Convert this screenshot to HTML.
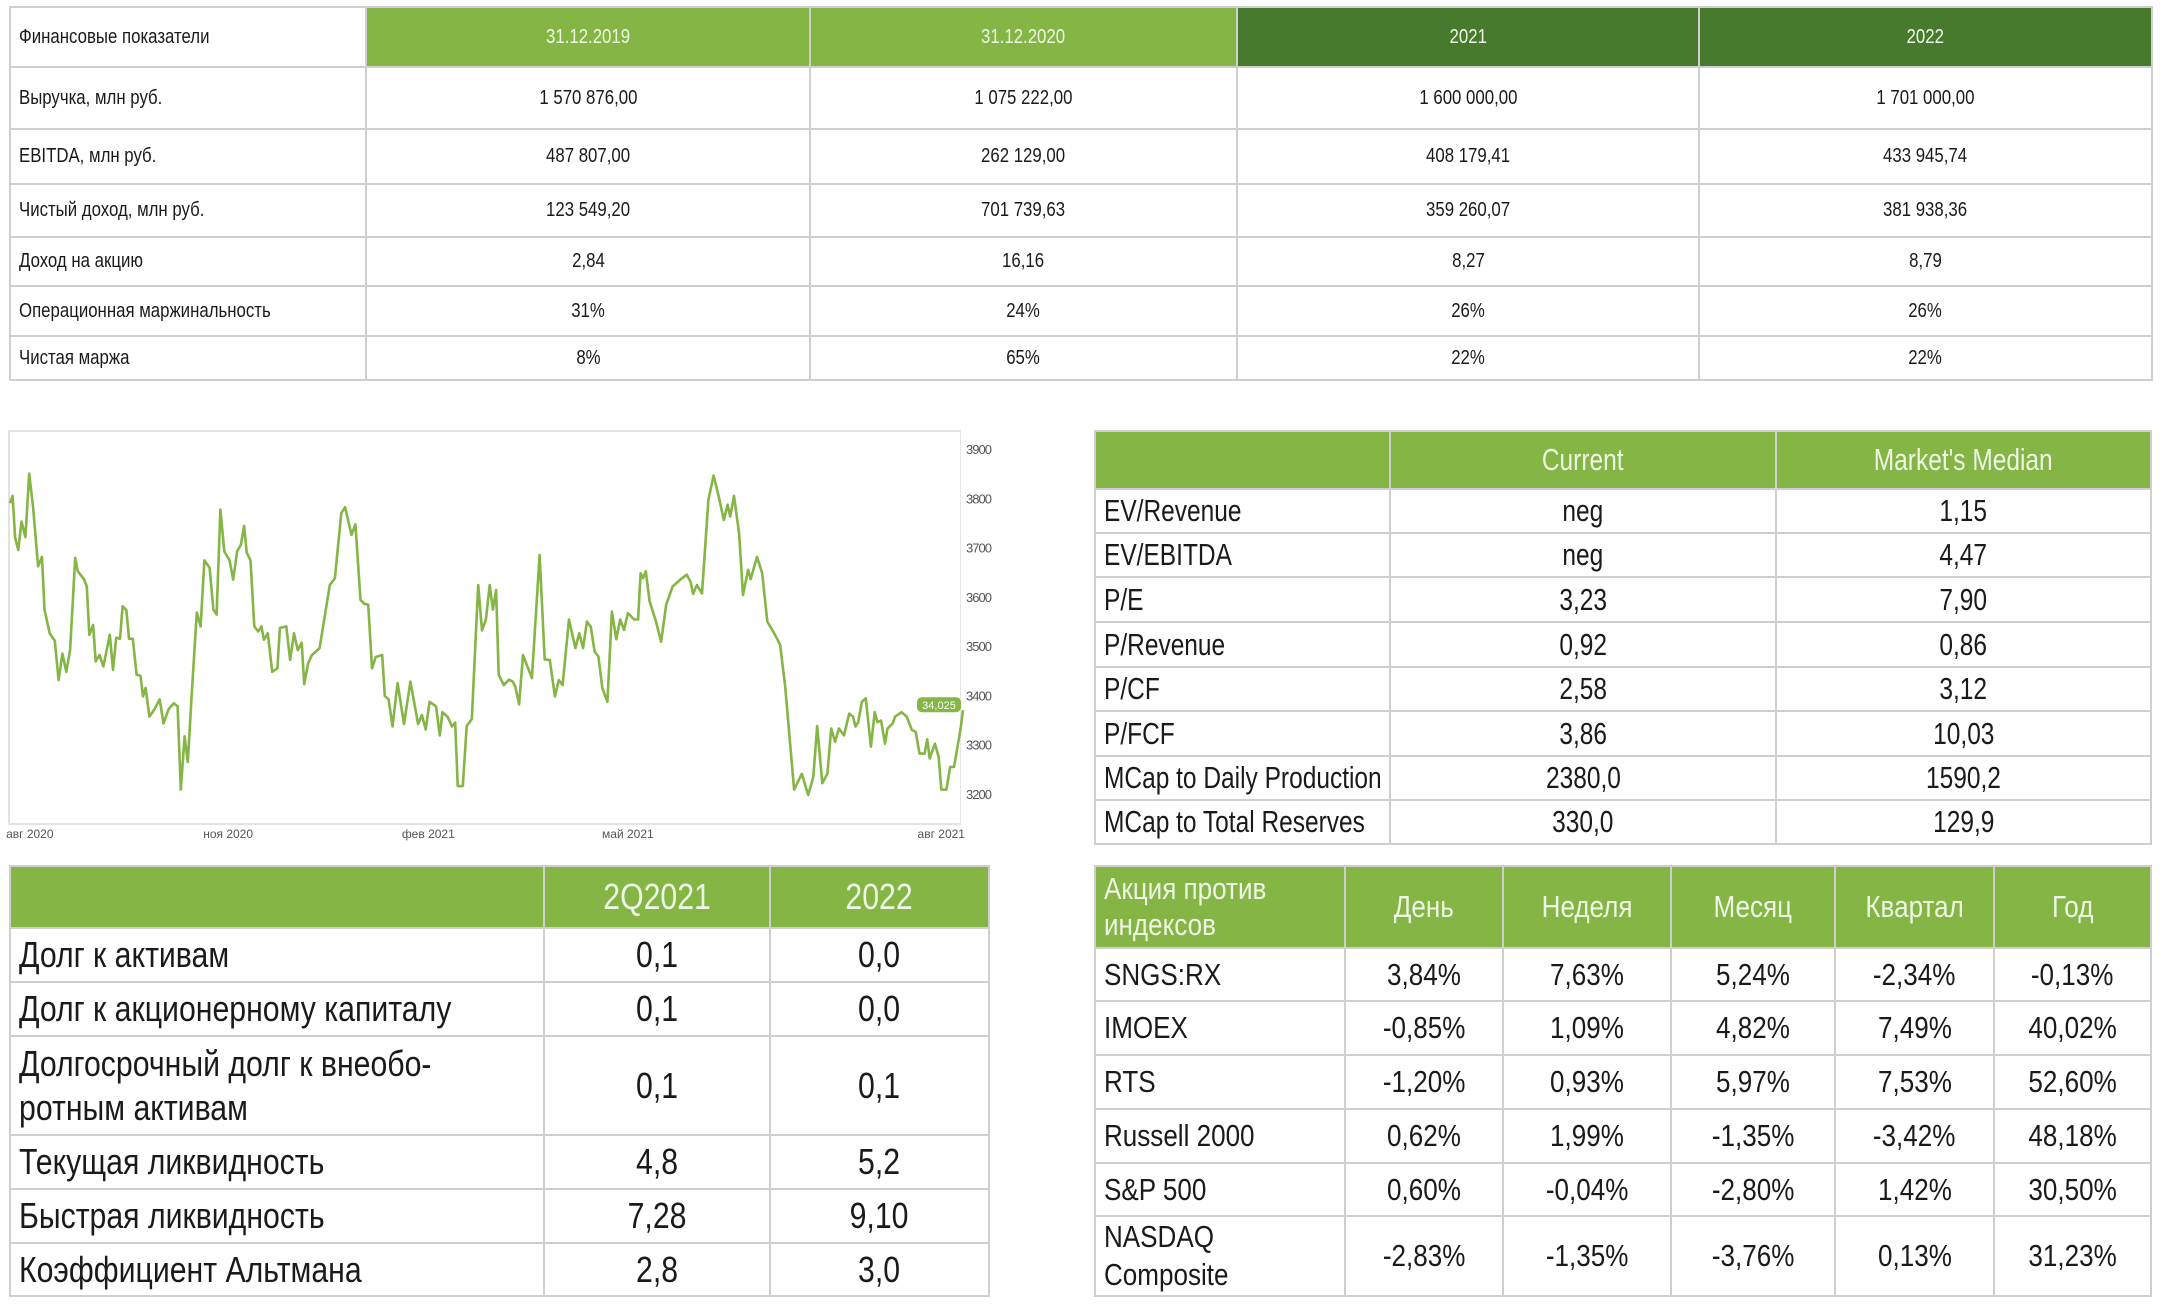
<!DOCTYPE html>
<html><head><meta charset="utf-8">
<style>
body{margin:0;width:2161px;height:1305px;background:#fff;position:relative;overflow:hidden;font-family:"Liberation Sans Narrow","Liberation Sans","DejaVu Sans Condensed",sans-serif;color:#1a1a1a}
table{position:absolute;border-collapse:collapse;table-layout:fixed}
td{border:2px solid #cfcfcf;padding:0 0 0 8px;white-space:nowrap;overflow:hidden}
td.c{text-align:center;padding:0}
td span{display:inline-block;transform:scaleX(.84);transform-origin:left center}
td.c span{transform-origin:center center}
#t2 td span{transform:scaleX(.79)}
.hl{background:#84b545;color:#eef6e4}
.hd{background:#477a2d;color:#eef6e4}
#t1 td{font-size:20px}
#t2 td{font-size:31px}
#t3 td{font-size:31px}
#t4 td{font-size:36px}
</style></head><body>

<table id="t1" style="left:9px;top:6px;width:2142px">
<colgroup><col style="width:356px"><col style="width:444px"><col style="width:427px"><col style="width:462px"><col style="width:453px"></colgroup>
<tr style="height:60px"><td><span>Финансовые показатели</span></td><td class="c hl"><span>31.12.2019</span></td><td class="c hl"><span>31.12.2020</span></td><td class="c hd"><span>2021</span></td><td class="c hd"><span>2022</span></td></tr>
<tr style="height:62px"><td><span>Выручка, млн руб.</span></td><td class="c"><span>1 570 876,00</span></td><td class="c"><span>1 075 222,00</span></td><td class="c"><span>1 600 000,00</span></td><td class="c"><span>1 701 000,00</span></td></tr>
<tr style="height:55px"><td><span>EBITDA, млн руб.</span></td><td class="c"><span>487 807,00</span></td><td class="c"><span>262 129,00</span></td><td class="c"><span>408 179,41</span></td><td class="c"><span>433 945,74</span></td></tr>
<tr style="height:53px"><td><span>Чистый доход, млн руб.</span></td><td class="c"><span>123 549,20</span></td><td class="c"><span>701 739,63</span></td><td class="c"><span>359 260,07</span></td><td class="c"><span>381 938,36</span></td></tr>
<tr style="height:49px"><td><span>Доход на акцию</span></td><td class="c"><span>2,84</span></td><td class="c"><span>16,16</span></td><td class="c"><span>8,27</span></td><td class="c"><span>8,79</span></td></tr>
<tr style="height:50px"><td><span>Операционная маржинальность</span></td><td class="c"><span>31%</span></td><td class="c"><span>24%</span></td><td class="c"><span>26%</span></td><td class="c"><span>26%</span></td></tr>
<tr style="height:44px"><td><span>Чистая маржа</span></td><td class="c"><span>8%</span></td><td class="c"><span>65%</span></td><td class="c"><span>22%</span></td><td class="c"><span>22%</span></td></tr>
</table>

<div style="position:absolute;left:8px;top:430px;width:950px;height:391px;border:2px solid #e2e2e2;border-right:1px solid #e6e6e6"></div>
<svg id="chart" width="2161" height="1305" style="position:absolute;left:0;top:0" xmlns="http://www.w3.org/2000/svg"></svg>

<table id="t2" style="left:1094px;top:430px;width:1056px">
<colgroup><col style="width:295px"><col style="width:386px"><col style="width:375px"></colgroup>
<tr style="height:58px"><td class="hl"></td><td class="c hl"><span>Current</span></td><td class="c hl"><span>Market's Median</span></td></tr>
<tr style="height:44px"><td><span>EV/Revenue</span></td><td class="c"><span>neg</span></td><td class="c"><span>1,15</span></td></tr>
<tr style="height:44px"><td><span>EV/EBITDA</span></td><td class="c"><span>neg</span></td><td class="c"><span>4,47</span></td></tr>
<tr style="height:45px"><td><span>P/E</span></td><td class="c"><span>3,23</span></td><td class="c"><span>7,90</span></td></tr>
<tr style="height:45px"><td><span>P/Revenue</span></td><td class="c"><span>0,92</span></td><td class="c"><span>0,86</span></td></tr>
<tr style="height:44px"><td><span>P/CF</span></td><td class="c"><span>2,58</span></td><td class="c"><span>3,12</span></td></tr>
<tr style="height:45px"><td><span>P/FCF</span></td><td class="c"><span>3,86</span></td><td class="c"><span>10,03</span></td></tr>
<tr style="height:44px"><td><span>MCap to Daily Production</span></td><td class="c"><span>2380,0</span></td><td class="c"><span>1590,2</span></td></tr>
<tr style="height:44px"><td><span>MCap to Total Reserves</span></td><td class="c"><span>330,0</span></td><td class="c"><span>129,9</span></td></tr>
</table>

<table id="t3" style="left:1094px;top:865px;width:1056px">
<colgroup><col style="width:250px"><col style="width:158px"><col style="width:168px"><col style="width:164px"><col style="width:159px"><col style="width:157px"></colgroup>
<tr style="height:82px"><td class="hl" style="line-height:36px"><span>Акция против<br>индексов</span></td><td class="c hl"><span>День</span></td><td class="c hl"><span>Неделя</span></td><td class="c hl"><span>Месяц</span></td><td class="c hl"><span>Квартал</span></td><td class="c hl"><span>Год</span></td></tr>
<tr style="height:53px"><td><span>SNGS:RX</span></td><td class="c"><span>3,84%</span></td><td class="c"><span>7,63%</span></td><td class="c"><span>5,24%</span></td><td class="c"><span>-2,34%</span></td><td class="c"><span>-0,13%</span></td></tr>
<tr style="height:54px"><td><span>IMOEX</span></td><td class="c"><span>-0,85%</span></td><td class="c"><span>1,09%</span></td><td class="c"><span>4,82%</span></td><td class="c"><span>7,49%</span></td><td class="c"><span>40,02%</span></td></tr>
<tr style="height:54px"><td><span>RTS</span></td><td class="c"><span>-1,20%</span></td><td class="c"><span>0,93%</span></td><td class="c"><span>5,97%</span></td><td class="c"><span>7,53%</span></td><td class="c"><span>52,60%</span></td></tr>
<tr style="height:54px"><td><span>Russell 2000</span></td><td class="c"><span>0,62%</span></td><td class="c"><span>1,99%</span></td><td class="c"><span>-1,35%</span></td><td class="c"><span>-3,42%</span></td><td class="c"><span>48,18%</span></td></tr>
<tr style="height:53px"><td><span>S&amp;P 500</span></td><td class="c"><span>0,60%</span></td><td class="c"><span>-0,04%</span></td><td class="c"><span>-2,80%</span></td><td class="c"><span>1,42%</span></td><td class="c"><span>30,50%</span></td></tr>
<tr style="height:80px"><td style="line-height:38px"><span>NASDAQ<br>Composite</span></td><td class="c"><span>-2,83%</span></td><td class="c"><span>-1,35%</span></td><td class="c"><span>-3,76%</span></td><td class="c"><span>0,13%</span></td><td class="c"><span>31,23%</span></td></tr>
</table>

<table id="t4" style="left:9px;top:865px;width:979px">
<colgroup><col style="width:534px"><col style="width:226px"><col style="width:219px"></colgroup>
<tr style="height:62px"><td class="hl"></td><td class="c hl"><span>2Q2021</span></td><td class="c hl"><span>2022</span></td></tr>
<tr style="height:54px"><td><span>Долг к активам</span></td><td class="c"><span>0,1</span></td><td class="c"><span>0,0</span></td></tr>
<tr style="height:54px"><td><span>Долг к акционерному капиталу</span></td><td class="c"><span>0,1</span></td><td class="c"><span>0,0</span></td></tr>
<tr style="height:99px"><td style="line-height:44px"><span>Долгосрочный долг к внеобо-<br>ротным активам</span></td><td class="c"><span>0,1</span></td><td class="c"><span>0,1</span></td></tr>
<tr style="height:54px"><td><span>Текущая ликвидность</span></td><td class="c"><span>4,8</span></td><td class="c"><span>5,2</span></td></tr>
<tr style="height:54px"><td><span>Быстрая ликвидность</span></td><td class="c"><span>7,28</span></td><td class="c"><span>9,10</span></td></tr>
<tr style="height:53px"><td><span>Коэффициент Альтмана</span></td><td class="c"><span>2,8</span></td><td class="c"><span>3,0</span></td></tr>
</table>

<script>
const t=[14,18,22,27,32,38,44,50,58,64,68,76,84,90,96,102,108,116,120,130,134,138,144,148,154,160,170,175,180,186,190,196,200,206,212,218,222,226,232,240,248,254,262,270,276,281,287,292,298,306,312,318,326,332,337,343,349,357,363,369,375,380,384,390,396,402,407,411,417,424,432,436,446,452,458,464,470,474,480,486,498,506,514,522,532,538,548,554,562,568,574,580,586,596,600,606,612,620,630,640,652,658,664,670,680,686,690,698,705,710,714,722,728,736,746,752,758,764,769,774,778,786,794,800,804,810,816,824,830,842,850,858,866,872,878,888,898,904,910,916,922,928,934,940,948,955,962,968,974,980,990,996,1000,1004,1008,1014,1024,1032,1040,1050,1062,1072,1078,1082,1088,1096,1106,1114,1122,1130,1136,1140,1146,1154,1160,1168,1172,1182,1190,1198,1210,1218,1226,1240,1252,1262,1270,1276,1284,1292,1298,1304,1310,1318,1326,1332,1336,1340,1346,1352,1360,1366,1370,1376,1382,1386,1394,1398,1408,1416,1424,1430,1436,1444,1448,1452,1460,1466,1470,1478,1484,1490,1500,1504];
const price=[3790,3805,3720,3695,3753,3721,3850,3784,3662,3681,3574,3526,3511,3431,3485,3448,3492,3679,3652,3635,3621,3523,3543,3469,3482,3459,3523,3452,3517,3515,3581,3573,3515,3515,3442,3440,3398,3415,3357,3372,3392,3343,3372,3384,3378,3209,3317,3265,3398,3568,3540,3674,3659,3574,3564,3777,3692,3675,3635,3692,3706,3744,3690,3674,3540,3530,3540,3513,3526,3448,3455,3537,3540,3472,3526,3492,3507,3423,3465,3482,3496,3560,3624,3638,3770,3782,3726,3747,3594,3586,3584,3455,3478,3482,3399,3392,3337,3425,3342,3428,3342,3360,3331,3387,3378,3319,3366,3357,3337,3345,3216,3216,3338,3352,3624,3532,3554,3624,3574,3614,3442,3421,3432,3428,3418,3382,3482,3455,3435,3685,3473,3472,3398,3431,3421,3554,3496,3526,3496,3550,3539,3489,3479,3415,3387,3570,3514,3554,3533,3567,3554,3554,3648,3638,3652,3591,3550,3509,3584,3621,3635,3645,3631,3606,3624,3607,3797,3846,3804,3756,3787,3763,3805,3729,3604,3655,3636,3681,3648,3550,3523,3503,3418,3209,3241,3198,3235,3338,3222,3241,3333,3306,3333,3319,3363,3357,3337,3345,3387,3394,3296,3366,3346,3349,3302,3333,3343,3357,3366,3357,3330,3326,3282,3282,3311,3272,3302,3275,3209,3209,3255,3255,3330,3370];
const yTicks=[3200,3300,3400,3500,3600,3700,3800,3900];
const xTickLabels=["авг 2020","ноя 2020","фев 2021","май 2021","авг 2021"];
const xTickPos=[45,355,668,980,1470];
const lastLabel="34,025";

const NS="http://www.w3.org/2000/svg";
const svg=document.getElementById('chart');
const T0=14,T1=1504,PX0=10,PX1=963;
function x(v){return PX0+(v-T0)/(T1-T0)*(PX1-PX0);}
function y(v){return 449+(3900-v)*(345/700);}
let d="";
for(let i=0;i<t.length;i++){d+=(i?"L":"M")+x(t[i]).toFixed(1)+" "+y(price[i]).toFixed(1);}
const path=document.createElementNS(NS,'path');
path.setAttribute('d',d);path.setAttribute('fill','none');path.setAttribute('stroke','#84b545');path.setAttribute('stroke-width','2.6');path.setAttribute('stroke-linejoin','round');


svg.appendChild(path);
yTicks.forEach(v=>{
  const tx=document.createElementNS(NS,'text');
  tx.setAttribute('x',966);tx.setAttribute('y',y(v)+5);tx.setAttribute('font-size','13');tx.setAttribute('fill','#555');
  tx.setAttribute('textLength','26');
  tx.setAttribute('font-family','Liberation Sans, sans-serif');
  tx.textContent=v;
  
  
  svg.appendChild(tx);
});
xTickLabels.forEach((s,i)=>{
  const tx=document.createElementNS(NS,'text');
  tx.setAttribute('x',x(xTickPos[i]));
  tx.setAttribute('y',838);tx.setAttribute('font-size','12');tx.setAttribute('fill','#555');tx.setAttribute('text-anchor','middle');
  tx.setAttribute('font-family','Liberation Sans, sans-serif');
  tx.textContent=s;
  
  
  svg.appendChild(tx);
});
const ly=y(price[price.length-1]);
const pill=document.createElementNS(NS,'rect');
pill.setAttribute('x',917);pill.setAttribute('y',ly-13);pill.setAttribute('width',44);pill.setAttribute('height',15);pill.setAttribute('rx',5);pill.setAttribute('fill','#84b545');


svg.appendChild(pill);
const pt=document.createElementNS(NS,'text');
pt.setAttribute('x',939);pt.setAttribute('y',ly-1);pt.setAttribute('font-size','11');pt.setAttribute('fill','#fff');pt.setAttribute('text-anchor','middle');
pt.setAttribute('font-family','Liberation Sans, sans-serif');
pt.textContent=lastLabel;


svg.appendChild(pt);
</script>
</body></html>
